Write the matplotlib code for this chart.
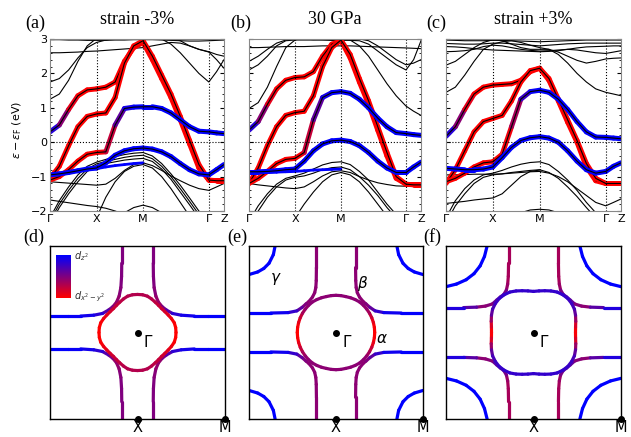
import numpy as np
import matplotlib.pyplot as plt
from matplotlib.collections import LineCollection
from matplotlib.colors import LinearSegmentedColormap
from matplotlib.ticker import AutoMinorLocator

nan = np.nan

# k path: Gamma - X - M - Gamma - Z
kpath = [0, 0.2, 0.4, 0.6, 0.8, 1.0, 1.2, 1.4, 1.6, 1.8, 2.0,
         2.2, 2.4, 2.6, 2.8, 3.0, 3.2, 3.414, 3.58, 3.74]
ktick_pos = [0, 1.0, 2.0, 3.414, 3.74]
ktick_lab = ['Γ', 'X', 'M', 'Γ', 'Z']
titles = ['strain -3%', '30 GPa', 'strain +3%']

# ---- (a) strain -3% : orbital-weighted bands (weight 1 = dx2-y2, 0 = dz2)
a_c1 = [0.3, 0.5, 0.95, 1.35, 1.52, 1.55, 1.6, 1.75, 2.35, 2.75, 2.9, 2.4, 1.85, 1.3, 0.65, -0.05, -0.75, -1.1, -1.1, -1.1]
a_c1_w = [0, 0.3, 0.8, 1, 1, 1, 1, 1, 1, 1, 1, 1, 1, 1, 1, 1, 1, 1, 1, 1]
a_c2 = [-1.05, -0.7, -0.1, 0.45, 0.75, 0.82, 0.85, 1.3, 2.3, 2.8, 2.95, 2.5, 1.95, 1.4, 0.75, 0.05, -0.65, -1.1, -1.12, -1.12]
a_c2_w = 1
a_c3 = [-1.1, -1.0, -0.8, -0.55, -0.35, -0.3, -0.28, 0.5, 0.98, 1.02, 1.03, 1.03, 0.98, 0.85, 0.65, 0.45, 0.32, 0.3, 0.27, 0.25]
a_c3_w = [1, 1, 1, 1, 1, 1, 0.95, 0.6, 0.15, 0, 0, 0, 0, 0, 0, 0, 0, 0, 0, 0]
a_c4 = [-0.95, -0.92, -0.88, -0.83, -0.78, -0.75, -0.6, -0.38, -0.25, -0.19, -0.17, -0.2, -0.28, -0.42, -0.62, -0.8, -0.92, -0.95, -0.8, -0.65]
a_c4_w = 0
a_c5 = [-0.95, -0.92, -0.88, -0.84, -0.8, -0.77, -0.72, -0.68, -0.65, -0.62, -0.6, nan, nan, nan, nan, nan, nan, nan, nan, nan]
a_k1 = [2.98, 2.98, 2.97, 2.97, 2.96, 2.96, 2.96, 2.97, 2.97, 2.98, 2.98, 2.98, 2.97, 2.96, 2.95, 2.94, 2.94, 2.95, 2.96, 2.97]
a_k2 = [2.6, 2.6, 2.61, 2.62, 2.64, 2.65, 2.67, 2.69, 2.71, 2.73, 2.75, 2.8, 2.85, 2.9, 2.88, 2.8, 2.7, 2.63, 2.55, 2.5]
a_k3 = [1.75, 1.85, 2.1, 2.45, 2.75, 2.9, 2.97, 3.02, 3.05, 3.06, 3.06, 3.05, 3.0, 2.85, 2.6, 2.3, 2.0, 1.75, 2.05, 2.4]
a_k4 = [1.25, 1.4, 1.8, 2.35, 2.8, 3.02, 3.1, 3.12, 3.12, 3.12, 3.12, 3.1, 3.05, 3.0, 2.95, 2.8, 2.7, 2.62, 2.4, 2.15]
a_k5 = [-2.2, -1.7, -1.3, -0.95, -0.7, -0.58, -0.5, -0.42, -0.36, -0.32, -0.3, -0.4, -0.62, -0.92, -1.25, -1.62, -2.0, -2.2, -2.2, -2.2]
a_k6 = [-2.3, -1.8, -1.4, -1.05, -0.78, -0.63, -0.56, -0.5, -0.44, -0.4, -0.38, -0.48, -0.7, -1.0, -1.35, -1.72, -2.1, -2.3, -2.3, -2.3]
a_k7 = [-2.4, -1.9, -1.5, -1.15, -0.85, -0.68, -0.62, -0.57, -0.52, -0.49, -0.47, -0.56, -0.78, -1.08, -1.45, -1.82, -2.2, -2.4, -2.4, -2.4]
a_k8 = [-1.15, -1.17, -1.19, -1.21, -1.23, -1.25, -1.22, -1.05, -0.82, -0.65, -0.6, -0.68, -0.82, -0.98, -1.12, -1.25, -1.35, -1.4, -1.3, -1.2]
a_k9 = [-1.68, -1.72, -1.76, -1.8, -1.84, -1.87, -1.92, -2.0, -2.1, nan, nan, nan, nan, nan, nan, nan, nan, nan, nan, nan]
a_k10 = [nan, nan, nan, nan, nan, nan, nan, nan, -2.05, -1.9, -1.83, -1.9, -2.05, nan, nan, nan, nan, nan, nan, nan]
a_k11 = [nan, nan, nan, nan, nan, -2.2, -1.6, -1.15, -0.85, -0.7, -0.65, -0.75, -1.0, -1.35, -1.75, -2.15, nan, nan, nan, nan]

# ---- (b) 30 GPa
b_c1 = [0.35, 0.6, 1.1, 1.55, 1.8, 1.88, 1.9, 2.05, 2.5, 2.85, 2.95, 2.45, 1.75, 1.1, 0.35, -0.4, -1.05, -1.22, -1.22, -1.22]
b_c1_w = [0, 0.3, 0.8, 1, 1, 1, 1, 1, 1, 1, 1, 1, 1, 1, 1, 1, 1, 1, 1, 1]
b_c2 = [-1.2, -0.75, -0.1, 0.45, 0.78, 0.86, 0.9, 1.35, 2.2, 2.75, 2.97, 2.55, 1.85, 1.2, 0.45, -0.3, -1.0, -1.22, -1.24, -1.24]
b_c2_w = 1
b_c3 = [-1.2, -1.05, -0.85, -0.62, -0.5, -0.47, -0.3, 0.65, 1.3, 1.44, 1.47, 1.42, 1.25, 1.0, 0.7, 0.45, 0.28, 0.25, 0.22, 0.2]
b_c3_w = [1, 1, 1, 1, 1, 1, 0.95, 0.6, 0.15, 0, 0, 0, 0, 0, 0, 0, 0, 0, 0, 0]
b_c4 = [-0.86, -0.86, -0.85, -0.83, -0.8, -0.78, -0.55, -0.25, -0.05, 0.04, 0.06, 0.02, -0.1, -0.3, -0.55, -0.75, -0.88, -0.88, -0.72, -0.58]
b_c4_w = 0
b_c5 = [-0.9, -0.89, -0.88, -0.87, -0.86, -0.85, -0.83, -0.81, -0.8, -0.79, -0.78, nan, nan, nan, nan, nan, nan, nan, nan, nan]
b_k1 = [2.75, 2.75, 2.76, 2.77, 2.78, 2.78, 2.78, 2.79, 2.8, 2.8, 2.8, 2.8, 2.79, 2.78, 2.77, 2.76, 2.75, 2.74, 2.73, 2.72]
b_k2 = [2.35, 2.5, 2.7, 2.88, 2.97, 3.0, 3.0, 2.98, 2.97, 2.96, 2.96, 2.96, 2.95, 2.85, 2.65, 2.45, 2.25, 2.1, 2.4, 2.95]
b_k3 = [2.1, 2.25, 2.5, 2.8, 2.95, 2.97, 2.97, 2.97, 2.98, 2.98, 2.98, 3.0, 3.0, 2.95, 2.8, 2.6, 2.4, 2.25, 2.3, 2.4]
b_k4 = [0.98, 1.15, 1.6, 2.2, 2.75, 2.97, 3.05, 3.1, 3.1, 3.1, 3.05, 2.97, 2.8, 2.5, 2.1, 1.7, 1.35, 1.05, 0.9, 0.78]
b_k5 = [-2.3, -1.85, -1.5, -1.22, -1.05, -0.98, -0.9, -0.78, -0.66, -0.59, -0.57, -0.65, -0.85, -1.1, -1.45, -1.8, -2.1, -2.3, -2.3, -2.3]
b_k6 = [-2.45, -2.0, -1.6, -1.3, -1.1, -1.02, -0.98, -0.9, -0.8, -0.74, -0.72, -0.8, -1.0, -1.25, -1.55, -1.9, -2.2, -2.4, -2.4, -2.4]
b_k7 = [-1.2, -1.24, -1.27, -1.3, -1.33, -1.35, -1.3, -1.15, -0.98, -0.86, -0.83, -0.88, -1.0, -1.1, -1.18, -1.23, -1.27, -1.28, -1.27, -1.26]
b_k8 = [nan, nan, nan, nan, nan, -2.2, -1.8, -1.45, -1.15, -0.95, -0.88, -0.95, -1.15, -1.45, -1.8, -2.15, nan, nan, nan, nan]

# ---- (c) strain +3%
c_c1 = [0.17, 0.45, 0.95, 1.4, 1.6, 1.66, 1.68, 1.7, 1.8, 2.05, 2.15, 1.8, 1.2, 0.58, 0.0, -0.72, -1.12, -1.2, -1.2, -1.2]
c_c1_w = [0, 0.3, 0.8, 1, 1, 1, 1, 1, 1, 1, 1, 1, 1, 1, 1, 1, 1, 1, 1, 1]
c_c2 = [-1.2, -0.8, -0.25, 0.3, 0.6, 0.69, 0.78, 1.2, 1.75, 2.08, 2.15, 1.85, 1.25, 0.65, 0.05, -0.62, -1.05, -1.2, -1.2, -1.2]
c_c2_w = 1
c_c3 = [-1.15, -1.05, -0.9, -0.72, -0.6, -0.57, -0.35, 0.45, 1.25, 1.47, 1.51, 1.45, 1.25, 0.95, 0.6, 0.3, 0.15, 0.14, 0.12, 0.1]
c_c3_w = [1, 1, 1, 1, 1, 1, 1, 0.9, 0.4, 0.05, 0, 0, 0, 0, 0, 0, 0, 0, 0, 0]
c_c4 = [-0.76, -0.78, -0.8, -0.8, -0.78, -0.72, -0.45, -0.15, 0.05, 0.13, 0.16, 0.12, 0.0, -0.25, -0.55, -0.8, -0.9, -0.85, -0.7, -0.6]
c_c4_w = 0
c_k1 = [2.97, 2.96, 2.95, 2.95, 2.95, 2.96, 2.96, 2.95, 2.94, 2.93, 2.92, 2.93, 2.94, 2.95, 2.96, 2.97, 2.97, 2.97, 2.97, 2.97]
c_k2 = [2.87, 2.86, 2.85, 2.85, 2.86, 2.88, 2.88, 2.86, 2.84, 2.82, 2.8, 2.82, 2.84, 2.86, 2.87, 2.88, 2.88, 2.88, 2.88, 2.88]
c_k3 = [2.78, 2.77, 2.75, 2.72, 2.7, 2.68, 2.67, 2.66, 2.65, 2.64, 2.63, 2.64, 2.66, 2.7, 2.74, 2.77, 2.78, 2.79, 2.8, 2.8]
c_k4 = [2.63, 2.64, 2.66, 2.7, 2.78, 2.82, 2.8, 2.75, 2.7, 2.67, 2.65, 2.66, 2.68, 2.7, 2.68, 2.64, 2.6, 2.58, 2.62, 2.66]
c_k5 = [2.24, 2.35, 2.55, 2.75, 2.9, 2.98, 2.95, 2.85, 2.75, 2.7, 2.7, 2.7, 2.62, 2.5, 2.38, 2.3, 2.35, 2.42, 2.44, 2.45]
c_k6 = [1.45, 1.6, 1.95, 2.35, 2.7, 2.85, 2.92, 2.95, 2.9, 2.82, 2.75, 2.7, 2.55, 2.3, 2.0, 1.75, 1.55, 1.45, 1.4, 1.35]
c_k7 = [-2.2, -1.7, -1.35, -1.1, -0.95, -0.9, -0.82, -0.72, -0.64, -0.59, -0.57, -0.65, -0.85, -1.1, -1.4, -1.75, -2.05, -2.2, -2.2, -2.2]
c_k8 = [-2.35, -1.85, -1.5, -1.2, -1.02, -0.95, -0.92, -0.88, -0.85, -0.82, -0.8, -0.88, -1.05, -1.3, -1.58, -1.9, -2.2, -2.35, -2.35, -2.35]
c_k9 = [-0.95, -0.95, -0.94, -0.93, -0.93, -0.93, -0.92, -0.9, -0.88, -0.86, -0.85, -0.9, -1.0, -1.15, -1.35, -1.55, -1.75, -1.85, -1.75, -1.65]
c_k10 = [-1.78, -1.75, -1.72, -1.68, -1.65, -1.62, -1.5, -1.25, -1.0, -0.85, -0.81, nan, nan, nan, nan, nan, nan, nan, nan, nan]
c_k11 = [nan, nan, nan, nan, nan, nan, nan, nan, -2.05, -1.97, -1.95, -1.97, -2.05, nan, nan, nan, nan, nan, nan, nan]

# ---- Fermi surfaces (one quadrant, mirrored by symmetry)
fs_angle = [0, 7.5, 15, 22.5, 30, 37.5, 45, 52.5, 60, 67.5, 75, 82.5, 90]
d_alpha_r = [0.44, 0.44, 0.435, 0.42, 0.405, 0.395, 0.39, 0.395, 0.405, 0.42, 0.435, 0.44, 0.44]
d_alpha_w = [1, 1, 1, 0.95, 0.9, 0.85, 0.8, 0.78, 0.75, 0.72, 0.7, 0.7, 0.7]
d_beta_x = [0.18, 0.18, 0.182, 0.19, 0.21, 0.24, 0.28, 0.33, 0.4, 0.5, 0.65, 0.8, 1.0]
d_beta_y = [1.0, 0.8, 0.65, 0.52, 0.42, 0.35, 0.3, 0.26, 0.22, 0.2, 0.19, 0.19, 0.19]
d_beta_w = [0.5, 0.5, 0.5, 0.5, 0.55, 0.6, 0.55, 0.4, 0.25, 0.1, 0.05, 0.02, 0.0]

e_alpha_r = [0.445, 0.445, 0.445, 0.445, 0.445, 0.445, 0.445, 0.445, 0.44, 0.435, 0.43, 0.43, 0.43]
e_alpha_w = [1, 1, 0.95, 0.85, 0.7, 0.6, 0.55, 0.55, 0.55, 0.55, 0.55, 0.55, 0.55]
e_beta_x = [0.225, 0.225, 0.227, 0.232, 0.245, 0.27, 0.31, 0.345, 0.39, 0.45, 0.55, 0.75, 1.0]
e_beta_y = [1.0, 0.75, 0.6, 0.52, 0.46, 0.41, 0.36, 0.33, 0.29, 0.25, 0.23, 0.225, 0.225]
e_beta_w = [0.55, 0.55, 0.55, 0.55, 0.55, 0.55, 0.55, 0.55, 0.45, 0.3, 0.1, 0.02, 0.0]
e_gamma_x = [0.70, 0.72, 0.77, 0.83, 0.9, 1.0]
e_gamma_y = [1.0, 0.9, 0.8, 0.74, 0.7, 0.67]

f_alpha_r = [0.48, 0.485, 0.5, 0.52, 0.54, 0.55, 0.555, 0.55, 0.54, 0.52, 0.5, 0.485, 0.475]
f_alpha_w = [1, 0.95, 0.75, 0.45, 0.3, 0.25, 0.22, 0.2, 0.2, 0.2, 0.2, 0.2, 0.2]
f_beta_x = [0.285, 0.285, 0.288, 0.295, 0.31, 0.34, 0.38, 0.42, 0.47, 0.55, 0.65, 0.8, 1.0]
f_beta_y = [1.0, 0.8, 0.65, 0.56, 0.49, 0.44, 0.41, 0.375, 0.33, 0.305, 0.293, 0.288, 0.288]
f_beta_w = [0.65, 0.65, 0.65, 0.65, 0.55, 0.4, 0.35, 0.35, 0.45, 0.6, 0.5, 0.2, 0.05]
f_gamma_x = [0.53, 0.56, 0.61, 0.68, 0.77, 0.88, 1.0]
f_gamma_y = [1.0, 0.88, 0.77, 0.68, 0.61, 0.56, 0.53]

cmap = LinearSegmentedColormap.from_list('orb', ['#0000ff', '#ff0000'])


def colored(ax, x, y, w, lw):
    x = np.asarray(x, float)
    y = np.asarray(y, float)
    w = np.broadcast_to(np.asarray(w, float), y.shape)
    pts = np.column_stack([x, y])
    seg = np.stack([pts[:-1], pts[1:]], axis=1)
    ok = np.isfinite(seg).all(axis=(1, 2))
    wc = 0.5 * (w[:-1] + w[1:])
    lc = LineCollection(seg[ok], colors=cmap(np.nan_to_num(wc[ok])), linewidths=lw,
                        capstyle='round', joinstyle='round')
    ax.add_collection(lc)


fig = plt.figure(figsize=(6.31, 4.37), dpi=100)
W, H = 631, 437

top_boxes = [(50, 174), (249, 172), (446, 175)]
bot_boxes = [(50, 175), (249, 174), (446, 175)]

panels = [
    ([(a_c1, a_c1_w), (a_c2, a_c2_w), (a_c3, a_c3_w), (a_c4, a_c4_w)], [a_c5],
     [a_k1, a_k2, a_k3, a_k4, a_k5, a_k6, a_k7, a_k8, a_k9, a_k10, a_k11]),
    ([(b_c1, b_c1_w), (b_c2, b_c2_w), (b_c3, b_c3_w), (b_c4, b_c4_w)], [b_c5],
     [b_k1, b_k2, b_k3, b_k4, b_k5, b_k6, b_k7, b_k8]),
    ([(c_c1, c_c1_w), (c_c2, c_c2_w), (c_c3, c_c3_w), (c_c4, c_c4_w)], [],
     [c_k1, c_k2, c_k3, c_k4, c_k5, c_k6, c_k7, c_k8, c_k9, c_k10, c_k11]),
]
letters_top = [('(a)', 35, 23), ('(b)', 241, 23), ('(c)', 436, 23)]
letters_bot = [('(d)', 34, 237), ('(e)', 237, 237), ('(f)', 432, 237)]

for i, (cbands, thinblue, kbands) in enumerate(panels):
    x0, w = top_boxes[i]
    ax = fig.add_axes([x0 / W, 1 - 211 / H, w / W, 172 / H])
    for e in kbands:
        ax.plot(kpath, e, color='k', lw=0.8)
    for e in thinblue:
        colored(ax, kpath, e, 0, 2.0)
    for e, wt in cbands:
        colored(ax, kpath, e, wt, 3.6)
        ax.plot(kpath, e, color='k', lw=0.8)
    for kp in ktick_pos[1:4]:
        ax.axvline(kp, color='k', ls=':', lw=0.8)
    ax.axhline(0, color='k', ls=':', lw=0.8)
    ax.set_xlim(0, 3.74)
    ax.set_ylim(-2, 3)
    ax.set_xticks(ktick_pos)
    ax.set_xticklabels(ktick_lab)
    ax.tick_params(axis='x', length=0, labelsize=8, pad=2)
    ax.set_yticks([-2, -1, 0, 1, 2, 3])
    ax.yaxis.set_minor_locator(AutoMinorLocator(5))
    ax.tick_params(axis='y', which='both', direction='in', left=True, right=True, labelsize=8, pad=2)
    ax.tick_params(axis='y', which='major', length=3)
    ax.tick_params(axis='y', which='minor', length=1.5)
    if i == 0:
        ax.set_yticklabels(['−2', '−1', '0', '1', '2', '3'])
    else:
        ax.set_yticklabels([])
    for s in ax.spines.values():
        s.set_color('#888888')
        s.set_linewidth(0.8)
    fig.text((x0 + w / 2) / W, 1 - 20 / H, titles[i], ha='center', va='center',
             family='Liberation Serif', fontsize=13)
    t, lx, ly = letters_top[i]
    fig.text(lx / W, 1 - ly / H, t, ha='center', va='center', family='Liberation Serif', fontsize=13)

fig.text(17 / W, 1 - 130 / H, r'$\varepsilon-\varepsilon_\mathrm{F}$ (eV)', rotation=90,
         ha='center', va='center', fontsize=8)

fermi = [
    (d_alpha_r, d_alpha_w, d_beta_x, d_beta_y, d_beta_w, None, None),
    (e_alpha_r, e_alpha_w, e_beta_x, e_beta_y, e_beta_w, e_gamma_x, e_gamma_y),
    (f_alpha_r, f_alpha_w, f_beta_x, f_beta_y, f_beta_w, f_gamma_x, f_gamma_y),
]
th = np.radians(fs_angle)
for i, (ar, aw, bx, by, bw, gx, gy) in enumerate(fermi):
    x0, w = bot_boxes[i]
    ax = fig.add_axes([x0 / W, 1 - 419 / H, w / W, 173 / H])
    ar = np.asarray(ar)
    for sx in (1, -1):
        for sy in (1, -1):
            if gx is not None:
                colored(ax, sx * np.asarray(gx), sy * np.asarray(gy), 0, 2.3)
            colored(ax, sx * np.asarray(bx), sy * np.asarray(by), bw, 2.3)
            colored(ax, sx * ar * np.cos(th), sy * ar * np.sin(th), aw, 2.3)
    ax.plot([0], [0], 'ko', ms=4)
    ax.text(0.07, -0.03, 'Γ', ha='left', va='top', fontsize=11)
    ax.plot([0, 1], [-1, -1], 'ko', ms=4, clip_on=False, zorder=5)
    ax.set_xlim(-1, 1)
    ax.set_ylim(-1, 1)
    ax.set_xticks([0, 1])
    ax.set_xticklabels(['X', 'M'])
    ax.tick_params(axis='x', length=0, labelsize=10.5, pad=1)
    ax.set_yticks([])
    for s in ax.spines.values():
        s.set_linewidth(1.0)
    t, lx, ly = letters_bot[i]
    fig.text(lx / W, 1 - ly / H, t, ha='center', va='center', family='Liberation Serif', fontsize=13)
    if i == 1:
        ax.text(-0.70, 0.64, 'γ', style='italic', fontsize=11, ha='center', va='center')
        ax.text(0.30, 0.57, 'β', style='italic', fontsize=11, ha='center', va='center')
        ax.text(0.52, -0.07, 'α', style='italic', fontsize=11, ha='center', va='center')

# orbital colour key in panel (d)
cax = fig.add_axes([56 / W, 1 - 298 / H, 15 / W, 43 / H])
cax.imshow(np.linspace(0, 1, 64)[:, None], cmap=cmap, aspect='auto')
cax.axis('off')
fig.text(74 / W, 1 - 256 / H, r'$d_{z^2}$', fontsize=7, color='#333333', va='center')
fig.text(74 / W, 1 - 297 / H, r'$d_{x^2-y^2}$', fontsize=7, color='#333333', va='center')

fig.savefig('out.png', dpi=100)
